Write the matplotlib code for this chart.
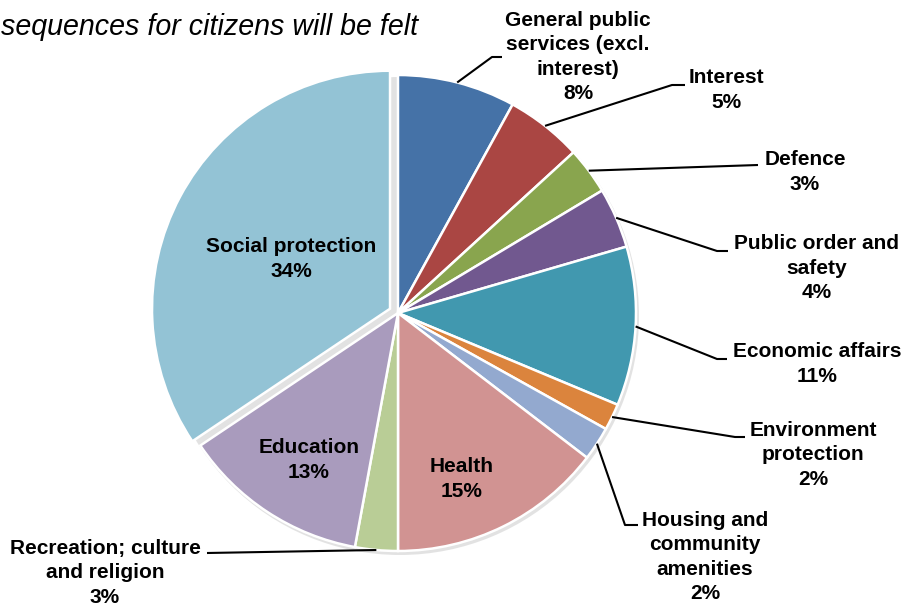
import numpy as np
import matplotlib.pyplot as plt
from matplotlib.patches import Circle

plt.rcParams['font.family'] = ['Liberation Sans', 'DejaVu Sans']

# data (share of general government expenditure, %)
categories = ["General public\nservices (excl.\ninterest)", "Interest", "Defence",
              "Public order and\nsafety", "Economic affairs", "Environment\nprotection",
              "Housing and\ncommunity\namenities", "Health",
              "Recreation; culture\nand religion", "Education", "Social protection"]
values = [8.0, 5.2, 3.2, 4.1, 10.8, 1.8, 2.3, 14.6, 2.9, 12.7, 34.4]
colors = ["#4572A7", "#AA4643", "#89A54E", "#71588F", "#4198AF", "#DB843D",
          "#93A9CF", "#D19392", "#B9CD96", "#A99BBD", "#93C3D5"]

W, H = 902, 607
fig = plt.figure(figsize=(W / 100, H / 100), dpi=100)
ax = fig.add_axes([0, 0, 1, 1])

cx, cy, R = 398, H - 313, 238
# pie's explode is in data units here (pixels)
explode = [0] * 10 + [0.038 * R]

# soft shadow behind pie
ax.add_patch(Circle((cx + 2, cy - 3), R + 1, color="#d0d0d0", alpha=0.6, zorder=0, lw=0))

wedges, _ = ax.pie(values, colors=colors, startangle=90, counterclock=False,
                   center=(cx, cy), radius=R, explode=explode,
                   wedgeprops=dict(edgecolor="white", linewidth=1.8, zorder=1))

labels = [f"{c}\n{v:.0f}%" for c, v in zip(categories, values)]

# label layout (pixel coords, y from top): text centre, elbow, end of leader
inside = {7: (462, 479), 9: (309, 460), 10: (291, 259)}
outside = {
    0: ((578, 57), (492, 57), (502, 57)),
    1: ((726, 90), (672, 85), (685, 85)),
    2: ((805, 172), (758, 165), (758, 165)),
    3: ((817, 268), (717, 251), (728, 251)),
    4: ((817, 364), (717, 359), (727, 359)),
    5: ((813, 455), (735, 437), (745, 437)),
    6: ((705, 557), (625, 525), (638, 525)),
    8: ((105, 573), (207, 553), (207, 553)),
}

txt = dict(fontsize=15, fontweight="bold", ha="center", va="center",
           linespacing=1.36, color="black")

for i, w in enumerate(wedges):
    if i in inside:
        x, y = inside[i]
        ax.text(x, H - y, labels[i], **txt)
    else:
        (tx, ty), (ex, ey), (fx, fy) = outside[i]
        mid = np.deg2rad((w.theta1 + w.theta2) / 2)
        sx, sy = cx + R * np.cos(mid), cy + R * np.sin(mid)
        ax.plot([sx, ex, fx], [sy, H - ey, H - fy], color="black", lw=1.5,
                solid_capstyle="butt", zorder=3)
        ax.text(tx, H - ty, labels[i], **txt)

ax.text(1, H - 35, "sequences for citizens will be felt", fontsize=20.6,
        style="italic", ha="left", va="baseline", color="black")

ax.set_xlim(0, W)
ax.set_ylim(0, H)
ax.set_aspect("equal")
ax.axis("off")

fig.savefig("out.png", dpi=100)
